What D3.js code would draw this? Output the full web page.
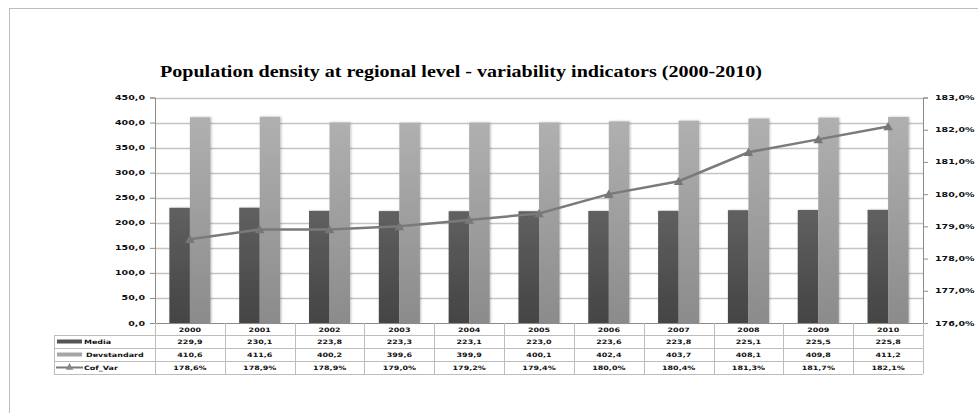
<!DOCTYPE html>
<html><head><meta charset="utf-8">
<script src="https://cdn.jsdelivr.net/npm/d3@7"></script>
<style>body{margin:0;background:#fff}svg{display:block}</style>
</head><body>
<svg id="c" width="978" height="413"></svg>
<script>
const years = ["2000","2001","2002","2003","2004","2005","2006","2007","2008","2009","2010"];
const media = [229.9,230.1,223.8,223.3,223.1,223.0,223.6,223.8,225.1,225.5,225.8];
const devstandard = [410.6,411.6,400.2,399.6,399.9,400.1,402.4,403.7,408.1,409.8,411.2];
const cofVar = [178.6,178.9,178.9,179.0,179.2,179.4,180.0,180.4,181.3,181.7,182.1];
const leftTicks = [0,50,100,150,200,250,300,350,400,450];
const rightTicks = [176,177,178,179,180,181,182,183];
const seriesNames = ["Media","Devstandard","Cof_Var"];
const titleText = "Population density at regional level - variability indicators (2000-2010)";

const svg = d3.select("#c");
const L = 155, R = 923, T = 97.5, B = 323;
const rowH = 13;
const fmt1 = v => v.toFixed(1).replace(".", ",");
const fmtP = v => v.toFixed(1).replace(".", ",") + "%";
const SY = 0.75;

const defs = svg.append("defs");
function grad(id, c1, c2){
  const g = defs.append("linearGradient").attr("id", id).attr("x1",0).attr("y1",0).attr("x2",0).attr("y2",1);
  g.append("stop").attr("offset","0%").attr("stop-color",c1);
  g.append("stop").attr("offset","100%").attr("stop-color",c2);
}
grad("gMedia", "#606060", "#444444");
grad("gDev", "#b0b0b0", "#8b8b8b");
const f = defs.append("filter").attr("id","sh").attr("x","-20%").attr("y","-5%").attr("width","150%").attr("height","110%");
f.append("feDropShadow").attr("dx",1).attr("dy",0).attr("stdDeviation",1).attr("flood-color","#000").attr("flood-opacity",0.25);

// frame
svg.append("rect").attr("x",9.5).attr("y",8.5).attr("width",1000).attr("height",420)
  .attr("fill","none").attr("stroke","#bdbdbd");

// title
svg.append("text").attr("x",160).attr("y",77).attr("font-family","'Liberation Serif', serif")
  .attr("font-weight","bold").attr("font-size",16).attr("fill","#000")
  .attr("textLength",602).attr("lengthAdjust","spacingAndGlyphs").text(titleText);

const x = d3.scaleBand().domain(years).range([L, R]).paddingInner(0).paddingOuter(0);
const y = d3.scaleLinear().domain([0,450]).range([B, T]);
const y2 = d3.scaleLinear().domain([176,183]).range([B, T]);
const xs = d3.scaleBand().domain(["Media","Devstandard"]).range([0, x.bandwidth()]).paddingOuter(0.7).paddingInner(0);

// grid
svg.append("g").selectAll("line").data(leftTicks.filter(d=>d>0)).join("line")
  .attr("x1",L).attr("x2",R).attr("y1",d=>Math.round(y(d))+0.5).attr("y2",d=>Math.round(y(d))+0.5)
  .attr("stroke","#c4c4c4").attr("stroke-width",1.3);

// bars
const bars = svg.append("g").attr("filter","url(#sh)");
bars.selectAll(".m").data(years).join("rect")
  .attr("x",(d)=>x(d)+xs("Media")).attr("width",xs.bandwidth())
  .attr("y",(d,i)=>y(media[i])).attr("height",(d,i)=>B-y(media[i])).attr("fill","url(#gMedia)");
bars.selectAll(".d").data(years).join("rect")
  .attr("x",(d)=>x(d)+xs("Devstandard")).attr("width",xs.bandwidth())
  .attr("y",(d,i)=>y(devstandard[i])).attr("height",(d,i)=>B-y(devstandard[i])).attr("fill","url(#gDev)");

// line
const pts = years.map((d,i)=>[x(d)+x.bandwidth()/2, y2(cofVar[i])]);
svg.append("path").attr("d", d3.line()(pts)).attr("fill","none").attr("stroke","#7a7a7a").attr("stroke-width",2.5);
const tri = d3.symbol().type(d3.symbolTriangle).size(40);
svg.append("g").selectAll("path").data(pts).join("path")
  .attr("transform",d=>`translate(${d[0]},${d[1]+1})`).attr("d",tri()).attr("fill","#777");

// axes
const axL = svg.append("g").attr("transform",`translate(${L},0)`)
  .call(d3.axisLeft(y).tickValues(leftTicks).tickSize(5).tickFormat(""));
const axR = svg.append("g").attr("transform",`translate(${R},0)`)
  .call(d3.axisRight(y2).tickValues(rightTicks).tickSize(5).tickFormat(""));
[axL, axR].forEach(a=>{a.select(".domain").attr("stroke","#8c8c8c"); a.selectAll(".tick line").attr("stroke","#8c8c8c");});

function label(g, tx, ty, txt, anchor, size){
  g.append("text").attr("transform",`translate(${tx},${ty}) scale(1,${SY})`)
    .attr("text-anchor",anchor).attr("dominant-baseline","central")
    .attr("font-family","'DejaVu Sans', sans-serif").attr("font-weight","bold")
    .attr("font-size",size).attr("fill","#111").text(txt);
}
const lab = svg.append("g");
leftTicks.forEach(v=>label(lab, 145, y(v), fmt1(v), "end", 9.5));
rightTicks.forEach(v=>label(lab, 935, y2(v), fmtP(v), "start", 9.5));

// data table
const tb = svg.append("g");
const tableL = 54;
const rows = [B, B+12, B+25, B+38, B+51];
const gridC = "#bdbdbd";
// horizontal lines
tb.append("line").attr("x1",L).attr("x2",R).attr("y1",rows[0]+0.5).attr("y2",rows[0]+0.5).attr("stroke","#8c8c8c");
for(let k=1;k<rows.length;k++){
  tb.append("line").attr("x1",tableL).attr("x2",R).attr("y1",rows[k]+0.5).attr("y2",rows[k]+0.5).attr("stroke",gridC);
}
// vertical lines
years.forEach(d=>{
  tb.append("line").attr("x1",Math.round(x(d))+0.5).attr("x2",Math.round(x(d))+0.5).attr("y1",rows[0]).attr("y2",rows[4]).attr("stroke",gridC);
});
tb.append("line").attr("x1",R+0.5).attr("x2",R+0.5).attr("y1",rows[0]).attr("y2",rows[4]).attr("stroke",gridC);
tb.append("line").attr("x1",tableL+0.5).attr("x2",tableL+0.5).attr("y1",rows[1]).attr("y2",rows[4]).attr("stroke",gridC);

const cx = d => x(d)+x.bandwidth()/2;
years.forEach((d,i)=>{
  label(tb, cx(d), (rows[0]+rows[1])/2+0.5, d, "middle", 8);
  label(tb, cx(d), (rows[1]+rows[2])/2+0.5, fmt1(media[i]), "middle", 8);
  label(tb, cx(d), (rows[2]+rows[3])/2+0.5, fmt1(devstandard[i]), "middle", 8);
  label(tb, cx(d), (rows[3]+rows[4])/2+0.5, fmtP(cofVar[i]), "middle", 8);
});
// legend keys
const r1 = (rows[1]+rows[2])/2, r2 = (rows[2]+rows[3])/2, r3 = (rows[3]+rows[4])/2;
tb.append("rect").attr("x",57).attr("y",r1-2).attr("width",25).attr("height",4).attr("fill","#555");
tb.append("rect").attr("x",57).attr("y",r2-2).attr("width",25).attr("height",4).attr("fill","#a5a5a5");
tb.append("line").attr("x1",56).attr("x2",83).attr("y1",r3).attr("y2",r3).attr("stroke","#7a7a7a").attr("stroke-width",2);
tb.append("path").attr("transform",`translate(69.5,${r3})`).attr("d",d3.symbol().type(d3.symbolTriangle).size(25)()).attr("fill","#888");
label(tb, 84, r1+0.5, seriesNames[0], "start", 8);
label(tb, 86, r2+0.5, seriesNames[1], "start", 8);
label(tb, 84, r3+0.5, seriesNames[2], "start", 8);
</script>
</body></html>
